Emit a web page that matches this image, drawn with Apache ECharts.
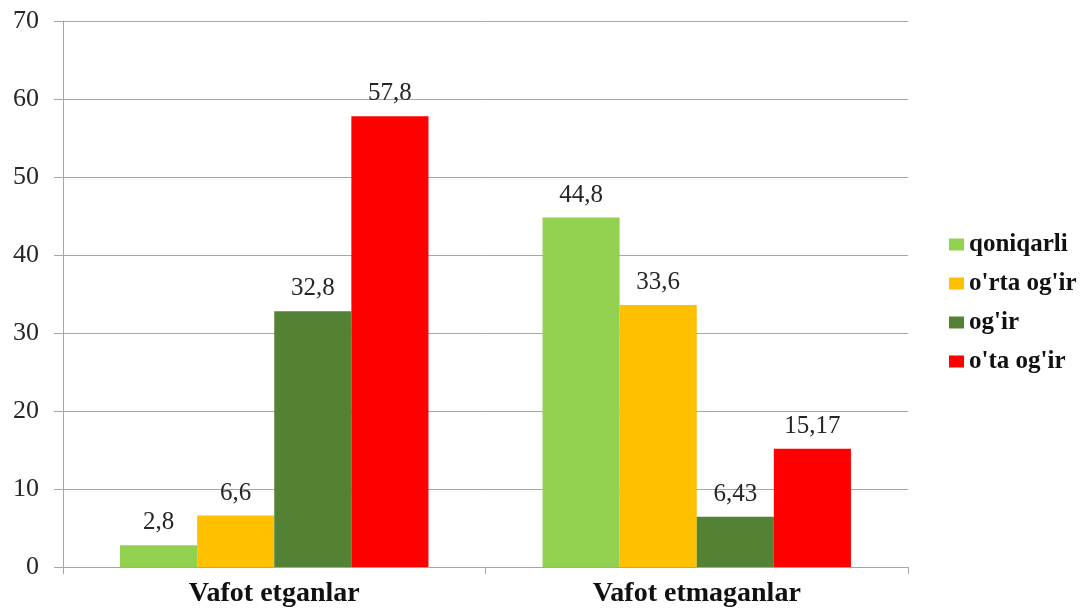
<!DOCTYPE html>
<html>
<head>
<meta charset="utf-8">
<script src="https://cdn.jsdelivr.net/npm/echarts@6/dist/echarts.min.js"></script>
<style>
  html, body { margin: 0; padding: 0; background: #fff; }
  #main { width: 1091px; height: 614px; }
</style>
</head>
<body>
<div id="main"></div>
<script>
var categories = ["Vafot etganlar", "Vafot etmaganlar"];
var seriesNames = ["qoniqarli", "o'rta og'ir", "og'ir", "o'ta og'ir"];
var qoniqarli = [2.8, 44.8];
var ortaOgir = [6.6, 33.6];
var ogir = [32.8, 6.43];
var otaOgir = [57.8, 15.17];
var colors = ["#92D050", "#FFC000", "#548235", "#FF0000"];

var FONT = "Liberation Serif";
var chartDom = document.getElementById("main");
var myChart = echarts.init(chartDom);

function makeSeries(name, values, color) {
  return {
    name: name,
    type: "bar",
    data: values,
    barGap: "0%",
    barCategoryGap: "27%",
    itemStyle: { color: color },
    label: {
      show: true,
      position: "top",
      distance: 10,
      fontFamily: FONT,
      fontSize: 25,
      color: "#262626",
      formatter: function (p) {
        return String(p.value).replace(".", ",");
      },
    },
  };
}

var option = {
  animation: false,
  color: colors,
  textStyle: { fontFamily: FONT },
  grid: { left: 63, right: 183, top: 21, bottom: 47 },
  legend: {
    orient: "vertical",
    left: 944,
    top: 227,
    itemWidth: 15,
    itemHeight: 12,
    itemGap: 14,
    icon: "rect",
    textStyle: { fontFamily: FONT, fontSize: 25, fontWeight: "bold", color: "#111" },
    data: seriesNames,
  },
  xAxis: {
    type: "category",
    data: categories,
    axisLine: { lineStyle: { color: "#a6a6a6", width: 1 } },
    axisTick: { show: true, length: 7, lineStyle: { color: "#a6a6a6" } },
    axisLabel: {
      fontFamily: FONT,
      fontSize: 28,
      fontWeight: "bold",
      color: "#111",
      margin: 13,
    },
  },
  yAxis: {
    type: "value",
    min: 0,
    max: 70,
    interval: 10,
    axisLine: { show: true, lineStyle: { color: "#a6a6a6", width: 1 } },
    axisTick: { show: true, length: 9, lineStyle: { color: "#a6a6a6" } },
    splitLine: { lineStyle: { color: "#a6a6a6", width: 1 } },
    axisLabel: { fontFamily: FONT, fontSize: 26, color: "#262626", margin: 24 },
  },
  series: [
    makeSeries(seriesNames[0], qoniqarli, colors[0]),
    makeSeries(seriesNames[1], ortaOgir, colors[1]),
    makeSeries(seriesNames[2], ogir, colors[2]),
    makeSeries(seriesNames[3], otaOgir, colors[3]),
  ],
};

myChart.setOption(option);
</script>
</body>
</html>
